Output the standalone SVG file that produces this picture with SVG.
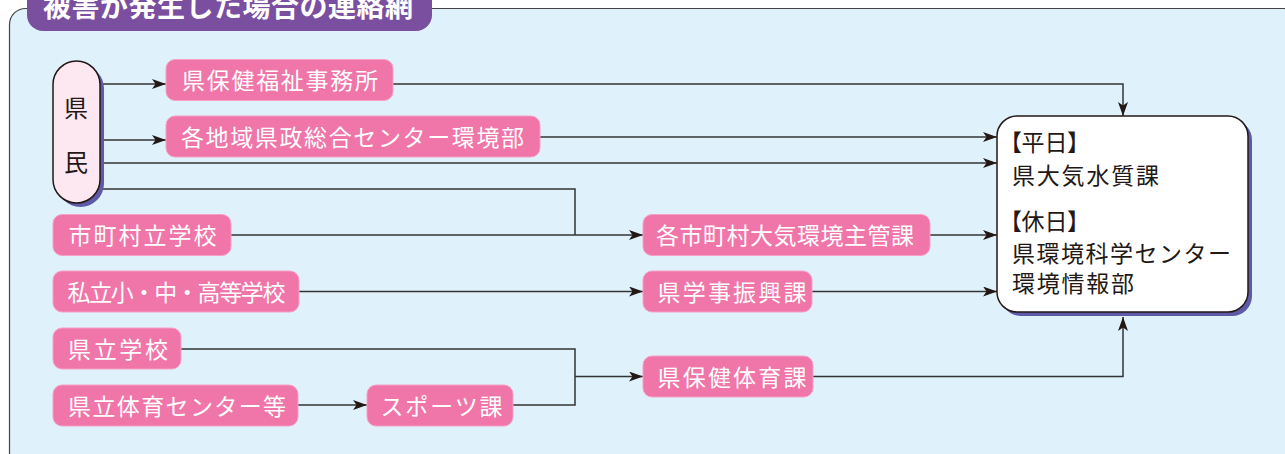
<svg xmlns="http://www.w3.org/2000/svg" width="1285" height="454" viewBox="0 0 1285 454">
<style>
.pk{fill:#f075a8;stroke:#f6a0c5;stroke-width:1}
.pt{font-family:"Noto Sans CJK JP","Noto Sans",sans-serif;font-size:23px;fill:#ffffff}
.mt{font-family:"Noto Sans CJK JP","Noto Sans",sans-serif;font-size:23px;fill:#231815}
.br{font-feature-settings:"palt" 1}
.ln{fill:none;stroke:#333333;stroke-width:1.5}
</style>
<defs>
<marker id="ah" viewBox="0 0 14 10" refX="14" refY="5" markerWidth="14" markerHeight="10" markerUnits="userSpaceOnUse" orient="auto">
<path d="M0,0 L14,5 L0,10 L3.5,5 z" fill="#231815"/>
</marker>
</defs>
<rect x="9.5" y="8.5" width="1290" height="460" rx="16" fill="#dff2fc" stroke="#444" stroke-width="1.2"/>
<g id="title">
<rect x="27" y="-20" width="405" height="51" rx="16" fill="#7b4f9f"/>
<text x="43" y="17" textLength="370" lengthAdjust="spacing" style="font-family:'Noto Sans CJK JP',sans-serif;font-size:28px;font-weight:bold;fill:#ffffff">被害が発生した場合の連絡網</text>
</g>
<g id="connectors">
<path class="ln" d="M100,84 H166" marker-end="url(#ah)"/>
<path class="ln" d="M100,140 H166" marker-end="url(#ah)"/>
<path class="ln" d="M100,163 H997" marker-end="url(#ah)"/>
<path class="ln" d="M100,189 H575 V235"/>
<path class="ln" d="M231,235 H643" marker-end="url(#ah)"/>
<path class="ln" d="M393,84 H1123 V116" marker-end="url(#ah)"/>
<path class="ln" d="M540,137 H997" marker-end="url(#ah)"/>
<path class="ln" d="M930,235 H997" marker-end="url(#ah)"/>
<path class="ln" d="M299,291.5 H643" marker-end="url(#ah)"/>
<path class="ln" d="M812,291.5 H997" marker-end="url(#ah)"/>
<path class="ln" d="M181,349 H575 V405 H513"/>
<path class="ln" d="M298,405 H367" marker-end="url(#ah)"/>
<path class="ln" d="M575,376.5 H643" marker-end="url(#ah)"/>
<path class="ln" d="M813,376.5 H1123 V317" marker-end="url(#ah)"/>
</g>
<g id="kenmin">
<rect x="57" y="65" width="47" height="142" rx="23.5" fill="#5e5aa8"/>
<rect x="53" y="61" width="47" height="142" rx="23.5" fill="#fde7f1" stroke="#231815" stroke-width="1.5"/>
<text class="mt" x="76" y="117" text-anchor="middle" style="font-size:24px">県</text>
<text class="mt" x="76" y="170.5" text-anchor="middle" style="font-size:24px">民</text>
</g>
<g id="main">
<rect x="1001" y="120" width="251" height="196" rx="20" fill="#5e5aa8"/>
<rect x="997" y="116" width="251" height="196" rx="20" fill="#ffffff" stroke="#231815" stroke-width="1.5"/>
<text class="mt br" x="1010" y="151">【平日】</text>
<text class="mt" x="1012" y="183.5" textLength="147" lengthAdjust="spacing">県大気水質課</text>
<text class="mt br" x="1010" y="229.5">【休日】</text>
<text class="mt" x="1012" y="262" textLength="219" lengthAdjust="spacing">県環境科学センター</text>
<text class="mt" x="1012" y="292" textLength="122" lengthAdjust="spacing">環境情報部</text>
</g>
<g id="n1"><rect class="pk" x="166" y="59.5" width="227" height="41" rx="9"/><text class="pt" x="182" y="89" textLength="196" lengthAdjust="spacing">県保健福祉事務所</text></g>
<g id="n2"><rect class="pk" x="166" y="116" width="374" height="41" rx="9"/><text class="pt" x="181" y="145.5" textLength="343" lengthAdjust="spacing">各地域県政総合センター環境部</text></g>
<g id="n3"><rect class="pk" x="53" y="214.5" width="178" height="41" rx="9"/><text class="pt" x="68.5" y="244" textLength="148" lengthAdjust="spacing">市町村立学校</text></g>
<g id="n4"><rect class="pk" x="53" y="271" width="246" height="41" rx="9"/><text class="pt" x="67.5" y="300.5" textLength="218" lengthAdjust="spacing">私立小・中・高等学校</text></g>
<g id="n5"><rect class="pk" x="643" y="214.5" width="287" height="41" rx="9"/><text class="pt" x="656" y="244" textLength="258" lengthAdjust="spacing">各市町村大気環境主管課</text></g>
<g id="n6"><rect class="pk" x="643" y="271" width="169" height="41" rx="9"/><text class="pt" x="657.5" y="300.5" textLength="149" lengthAdjust="spacing">県学事振興課</text></g>
<g id="n7"><rect class="pk" x="53" y="328" width="128" height="41" rx="9"/><text class="pt" x="68" y="357.5" textLength="100" lengthAdjust="spacing">県立学校</text></g>
<g id="n8"><rect class="pk" x="53" y="385" width="245" height="41" rx="9"/><text class="pt" x="68" y="414.5" textLength="218" lengthAdjust="spacing">県立体育センター等</text></g>
<g id="n9"><rect class="pk" x="367" y="385" width="146" height="41" rx="9"/><text class="pt" x="380.5" y="414.5" textLength="122" lengthAdjust="spacing">スポーツ課</text></g>
<g id="n10"><rect class="pk" x="643" y="356" width="170" height="41" rx="9"/><text class="pt" x="657.5" y="385.5" textLength="149" lengthAdjust="spacing">県保健体育課</text></g>
</svg>
